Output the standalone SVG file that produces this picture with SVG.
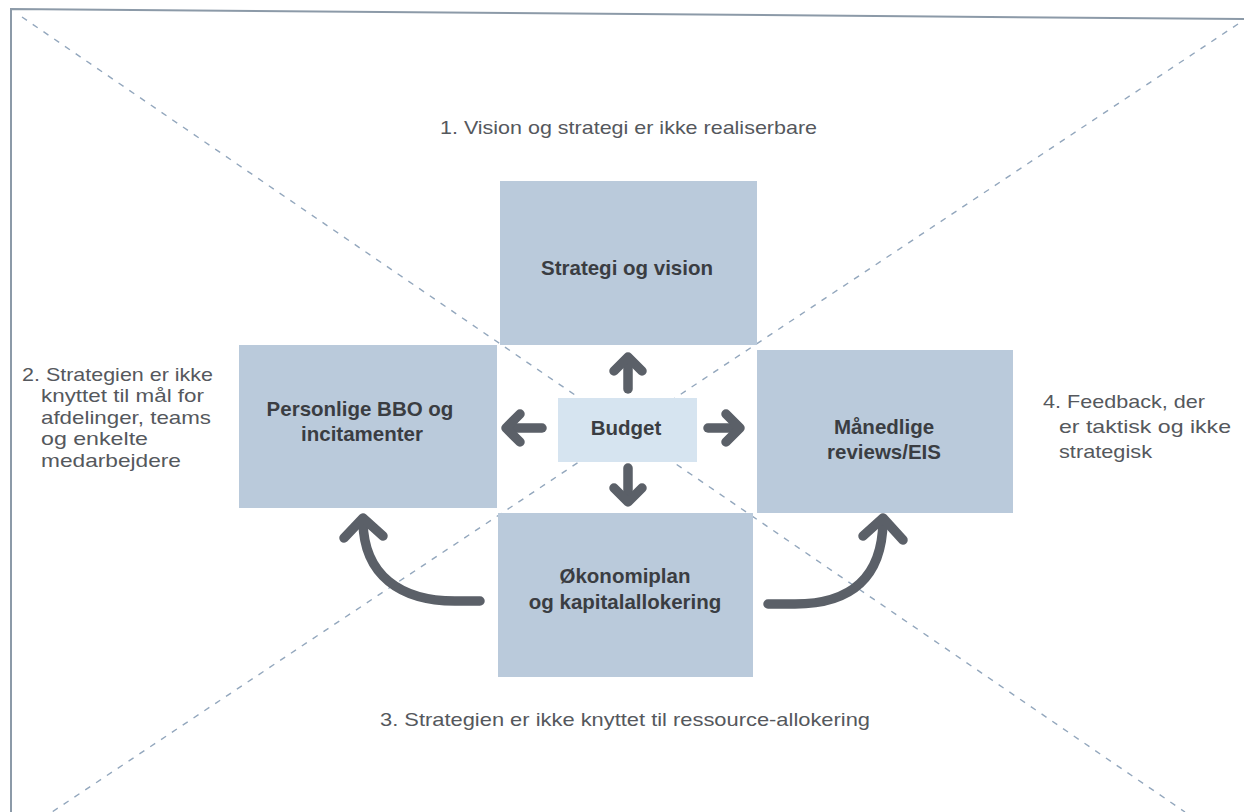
<svg xmlns="http://www.w3.org/2000/svg" width="1244" height="812" viewBox="0 0 1244 812">
  <style>
    .frame { fill: none; stroke: #8c9aa8; stroke-width: 2; }
    .diag { fill: none; stroke: #93a7bd; stroke-width: 1.4; stroke-dasharray: 6 7; }
    .box { fill: #bacadb; }
    .core { fill: #d6e4f0; }
    .lbl { font-family: "Liberation Sans", Arial, sans-serif; font-weight: bold; font-size: 20.5px; fill: #3a3d42; text-anchor: middle; }
    .note { font-family: "Liberation Sans", Arial, sans-serif; font-size: 19px; fill: #55585d; }
    .shaft { fill: none; stroke: #5b6068; stroke-width: 9.5; stroke-linecap: round; stroke-linejoin: round; }
    .head { fill: none; stroke: #5b6068; stroke-width: 9.5; stroke-linecap: round; stroke-linejoin: round; }
  </style>

  <rect width="1244" height="812" fill="#ffffff"/>

  <!-- outer frame -->
  <path class="frame" d="M11,812 V9 L1244,19"/>

  <!-- dashed diagonals -->
  <g id="diagonals">
    <line class="diag" x1="22" y1="17" x2="1185" y2="812"/>
    <line class="diag" x1="1238" y1="24" x2="52" y2="812"/>
  </g>

  <!-- nodes -->
  <g id="node-strategi">
    <rect class="box" x="500" y="181" width="257" height="164"/>
    <text class="lbl" x="627" y="275">Strategi og vision</text>
  </g>
  <g id="node-bbo">
    <rect class="box" x="239" y="345" width="258" height="163"/>
    <text class="lbl" x="360" y="416">Personlige BBO og</text>
    <text class="lbl" x="362" y="441">incitamenter</text>
  </g>
  <g id="node-reviews">
    <rect class="box" x="757" y="350" width="256" height="163"/>
    <text class="lbl" x="884" y="434">Månedlige</text>
    <text class="lbl" x="884" y="459">reviews/EIS</text>
  </g>
  <g id="node-oekonomi">
    <rect class="box" x="498" y="513" width="255" height="164"/>
    <text class="lbl" x="625" y="583">Økonomiplan</text>
    <text class="lbl" x="625" y="609">og kapitalallokering</text>
  </g>
  <g id="node-budget">
    <rect class="core" x="558" y="398" width="139" height="64"/>
    <text class="lbl" x="626" y="435">Budget</text>
  </g>

  <!-- connectors -->
  <g id="connectors">
    <!-- up -->
    <path class="shaft" d="M628,389 V360"/>
    <path class="head" d="M614,371 L628,357 L642,371"/>
    <!-- left -->
    <path class="shaft" d="M542,428 H508"/>
    <path class="head" d="M520,414 L506,428 L520,442"/>
    <!-- right -->
    <path class="shaft" d="M708,428 H738"/>
    <path class="head" d="M726,414 L740,428 L726,442"/>
    <!-- down -->
    <path class="shaft" d="M628,468 V499"/>
    <path class="head" d="M614,488 L628,502 L642,488"/>
    <!-- curved to the left node -->
    <path class="shaft" d="M480,601 H455 C400,601 364,575 363,522"/>
    <path class="head" d="M344,538 L363,518 L383,536"/>
    <!-- curved to the right node -->
    <path class="shaft" d="M768,604 H795 C852,604 882,577 883,522"/>
    <path class="head" d="M863,536 L883,518 L903,540"/>
  </g>

  <!-- problem statements -->
  <g id="notes">
    <text class="note" x="440" y="134" textLength="377" lengthAdjust="spacingAndGlyphs">1. Vision og strategi er ikke realiserbare</text>
    <text class="note" x="22" y="381" textLength="191" lengthAdjust="spacingAndGlyphs">2. Strategien er ikke</text>
    <text class="note" x="41" y="402" textLength="163" lengthAdjust="spacingAndGlyphs">knyttet til mål for</text>
    <text class="note" x="41" y="424" textLength="170" lengthAdjust="spacingAndGlyphs">afdelinger, teams</text>
    <text class="note" x="41" y="445" textLength="107" lengthAdjust="spacingAndGlyphs">og enkelte</text>
    <text class="note" x="41" y="467" textLength="140" lengthAdjust="spacingAndGlyphs">medarbejdere</text>
    <text class="note" x="1043" y="408" textLength="162" lengthAdjust="spacingAndGlyphs">4. Feedback, der</text>
    <text class="note" x="1059" y="433" textLength="172" lengthAdjust="spacingAndGlyphs">er taktisk og ikke</text>
    <text class="note" x="1059" y="458" textLength="93" lengthAdjust="spacingAndGlyphs">strategisk</text>
    <text class="note" x="380" y="726" textLength="490" lengthAdjust="spacingAndGlyphs">3. Strategien er ikke knyttet til ressource-allokering</text>
  </g>
</svg>
